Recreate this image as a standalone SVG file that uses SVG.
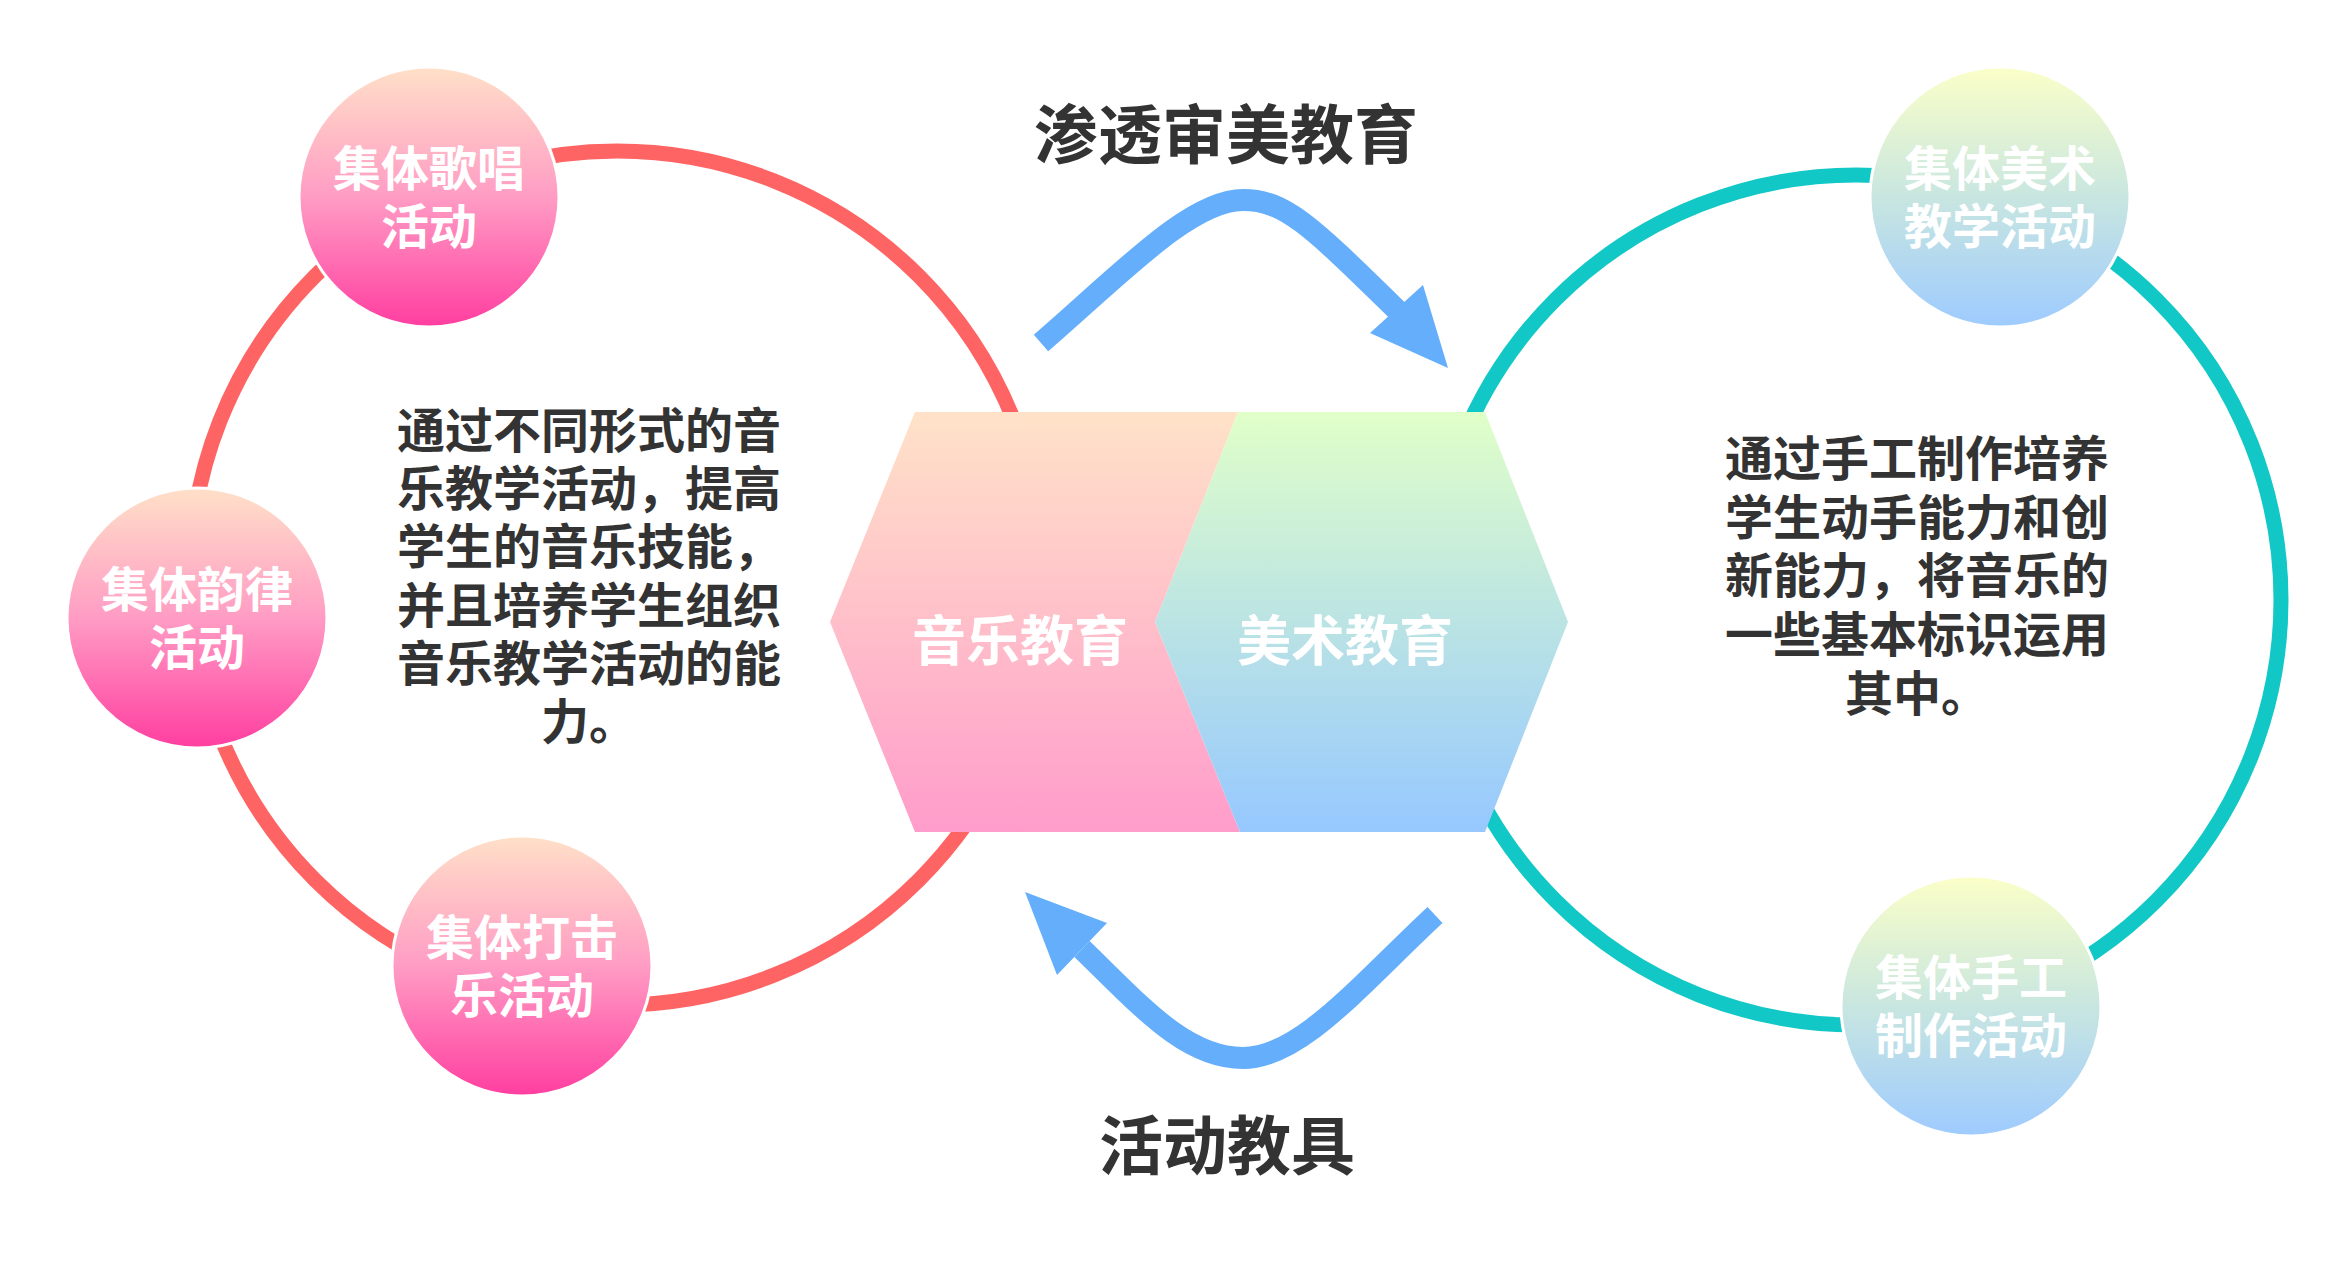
<svg xmlns="http://www.w3.org/2000/svg" width="2352" height="1267" viewBox="0 0 2352 1267">
<defs>
<linearGradient id="gPinkNode" x1="0" y1="0" x2="0" y2="1">
<stop offset="0" stop-color="#FFE0C8"/>
<stop offset="0.5" stop-color="#FF9CC4"/>
<stop offset="1" stop-color="#FF3EA0"/>
</linearGradient>
<linearGradient id="gBlueNode" x1="0" y1="0" x2="0" y2="1">
<stop offset="0" stop-color="#FBFFC8"/>
<stop offset="0.5" stop-color="#C8E6E0"/>
<stop offset="1" stop-color="#9ECBFF"/>
</linearGradient>
<linearGradient id="gHexL" x1="0" y1="0" x2="0" y2="1">
<stop offset="0" stop-color="#FFE2C8"/>
<stop offset="1" stop-color="#FF9CCB"/>
</linearGradient>
<linearGradient id="gHexR" x1="0" y1="0" x2="0" y2="1">
<stop offset="0" stop-color="#E0FFC8"/>
<stop offset="1" stop-color="#96C8FF"/>
</linearGradient>
<style>
.ring{fill:none;stroke-width:15}
.arrow{fill:none;stroke:#64AEFC;stroke-width:22;stroke-linecap:butt}
.head{fill:#64AEFC}
.node{stroke:#FFFFFF;stroke-width:3}
.lbl{font-family:"Liberation Sans","Noto Sans CJK SC",sans-serif;font-weight:700;fill:#FFFFFF;font-size:48px;text-anchor:middle}
.big{font-family:"Liberation Sans","Noto Sans CJK SC",sans-serif;font-weight:700;fill:#FFFFFF;font-size:54px;text-anchor:middle}
.para{font-family:"Liberation Sans","Noto Sans CJK SC",sans-serif;font-weight:700;fill:#333333;font-size:48px;text-anchor:middle}
.title{font-family:"Liberation Sans","Noto Sans CJK SC",sans-serif;font-weight:700;fill:#333333;font-size:64px;text-anchor:middle}
</style>
</defs>
<rect width="2352" height="1267" fill="#FFFFFF"/>

<g id="rings">
<circle class="ring" cx="617" cy="578" r="427" stroke="#FF6464"/>
<circle class="ring" cx="1856" cy="600" r="425" stroke="#12C8C6"/>
</g>

<g id="connectors">
<path class="arrow" d="M1041,343 C1120,275 1190,200 1243,200 C1285,200 1310,225 1398,311"/>
<polygon class="head" points="1448,368 1370,333 1423,285"/>
<path class="arrow" d="M1435,915 C1360,985 1300,1058 1243,1058 C1185,1058 1140,1005 1082,949"/>
<polygon class="head" points="1025,892 1107,923 1057,975"/>
</g>

<g id="title-top">
<text class="title" x="1226" y="158">渗透审美教育</text>
</g>
<g id="title-bottom">
<text class="title" x="1227" y="1169">活动教具</text>
</g>

<g id="hexagon">
<polygon points="915,412 1238,412 1155,622 1240,832 915,832 830,622" fill="url(#gHexL)"/>
<polygon points="1238,412 1485,412 1568,622 1485,832 1240,832 1155,622" fill="url(#gHexR)"/>
<text class="big" x="1020" y="661">音乐教育</text>
<text class="big" x="1345" y="661">美术教育</text>
</g>

<g id="node-singing">
<circle class="node" cx="429" cy="197" r="130" fill="url(#gPinkNode)"/>
<text class="lbl" x="429" y="186">集体歌唱<tspan x="429" dy="58">活动</tspan></text>
</g>
<g id="node-rhythm">
<circle class="node" cx="197" cy="618" r="130" fill="url(#gPinkNode)"/>
<text class="lbl" x="197" y="607">集体韵律<tspan x="197" dy="58">活动</tspan></text>
</g>
<g id="node-percussion">
<circle class="node" cx="522" cy="966" r="130" fill="url(#gPinkNode)"/>
<text class="lbl" x="522" y="955">集体打击<tspan x="522" dy="58">乐活动</tspan></text>
</g>
<g id="node-art">
<circle class="node" cx="2000" cy="197" r="130" fill="url(#gBlueNode)"/>
<text class="lbl" x="2000" y="186">集体美术<tspan x="2000" dy="58">教学活动</tspan></text>
</g>
<g id="node-craft">
<circle class="node" cx="1971" cy="1006" r="130" fill="url(#gBlueNode)"/>
<text class="lbl" x="1971" y="995">集体手工<tspan x="1971" dy="58">制作活动</tspan></text>
</g>

<g id="text-music">
<text class="para" x="589" y="448">通过不同形式的音<tspan x="589" dy="58.2">乐教学活动，提高</tspan><tspan x="589" dy="58.2">学生的音乐技能，</tspan><tspan x="589" dy="58.2">并且培养学生组织</tspan><tspan x="589" dy="58.2">音乐教学活动的能</tspan><tspan x="589" dy="58.2">力。</tspan></text>
</g>
<g id="text-art">
<text class="para" x="1917" y="476">通过手工制作培养<tspan x="1917" dy="58.7">学生动手能力和创</tspan><tspan x="1917" dy="58.7">新能力，将音乐的</tspan><tspan x="1917" dy="58.7">一些基本标识运用</tspan><tspan x="1917" dy="58.7">其中。</tspan></text>
</g>
</svg>
